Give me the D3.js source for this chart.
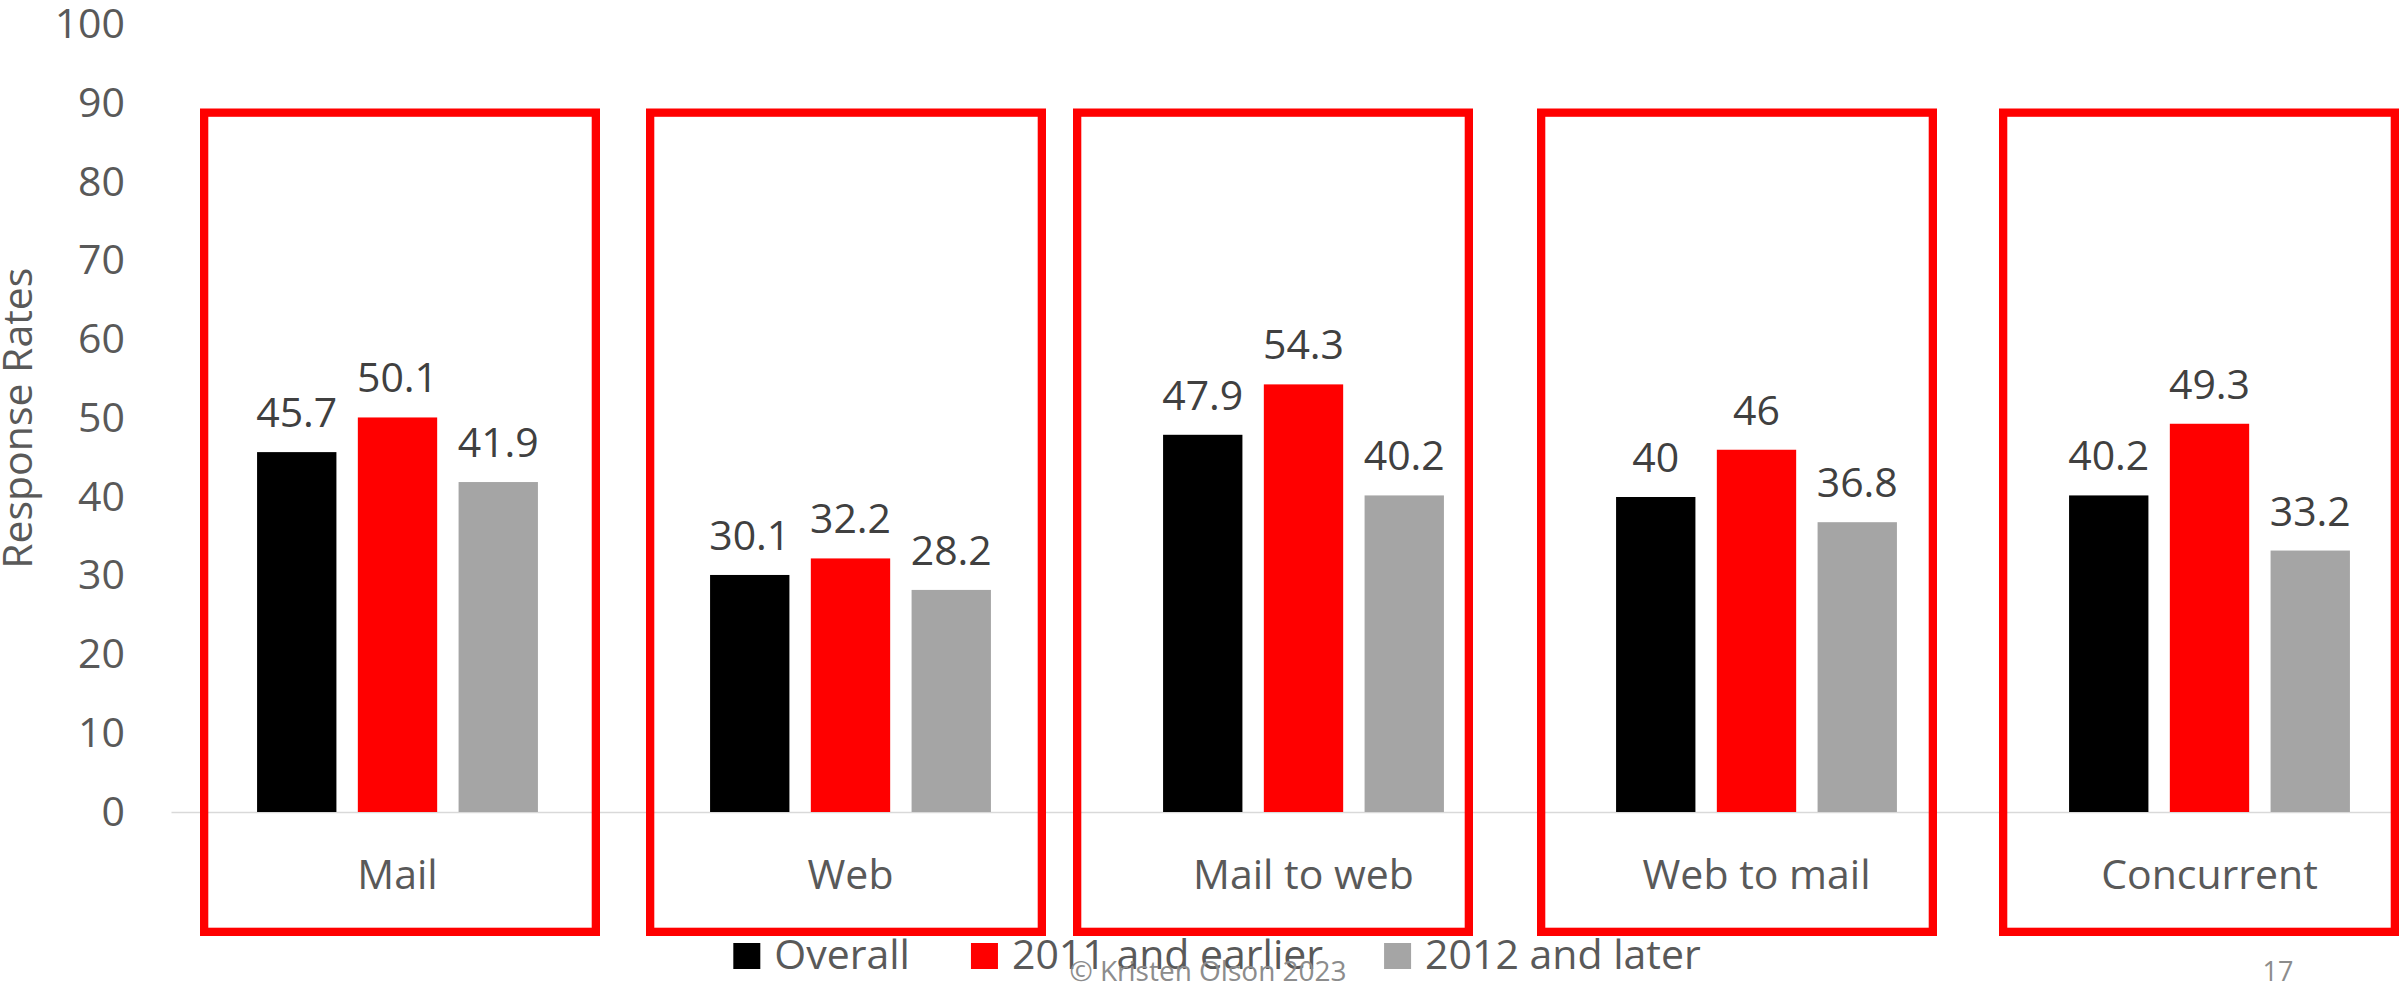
<!DOCTYPE html>
<html>
<head>
<meta charset="utf-8">
<script src="https://cdn.jsdelivr.net/npm/d3@7"></script>
<style>
  html, body { margin: 0; padding: 0; background: #fff; overflow: hidden; }
  svg { display: block; }
  text { font-family: "Open Sans", sans-serif; }
</style>
</head>
<body>
<svg id="chart" width="2399" height="988"></svg>
<script>
// Response rates by survey mode, split by period
const categories = ["Mail", "Web", "Mail to web", "Web to mail", "Concurrent"];
const seriesNames = ["Overall", "2011 and earlier", "2012 and later"];
const overall = [45.7, 30.1, 47.9, 40, 40.2];
const earlier2011 = [50.1, 32.2, 54.3, 46, 49.3];
const later2012 = [41.9, 28.2, 40.2, 36.8, 33.2];
const yTicks = [0, 10, 20, 30, 40, 50, 60, 70, 80, 90, 100];
const axisTitle = "Response Rates";
const footerText = "© Kristen Olson 2023";
const pageNumber = "17";

const seriesValues = [overall, earlier2011, later2012];
const seriesColors = ["#000000", "#ff0000", "#a5a5a5"];

// horizontal nudge of each red highlight frame relative to its category centre
const frameShift = [2.5, -4.5, -30.5, -19.5, -10.5];

const FONT = "'Open Sans', sans-serif";
const svg = d3.select("#chart");

const x = d3.scaleBand().domain(categories).range([171, 2436]).paddingInner(0).paddingOuter(0);
const bw = x.bandwidth();
const xs = d3.scaleBand().domain(seriesNames).range([bw * 0.19, bw * 0.81]).paddingInner(0.2125);
const y = d3.scaleLinear().domain([0, 100]).range([812, 24.5]);

const rows = categories.map((c, i) => ({
  category: c,
  values: seriesNames.map((s, j) => ({ series: s, value: seriesValues[j][i], color: seriesColors[j] }))
}));

// category axis (baseline + labels)
const xAxis = svg.append("g")
  .attr("transform", `translate(0,${y(0)})`)
  .call(d3.axisBottom(x).tickSize(0).tickSizeOuter(0));
xAxis.select(".domain").attr("stroke", "#d9d9d9").attr("stroke-width", 1.5);
xAxis.selectAll(".tick text")
  .attr("y", 77).attr("dy", 0)
  .attr("font-size", 41).attr("fill", "#595959")
  .style("font-family", FONT);

// value axis
const yAxis = svg.append("g")
  .attr("transform", "translate(171,0)")
  .call(d3.axisLeft(y).tickValues(yTicks).tickSize(0).tickPadding(46));
yAxis.select(".domain").remove();
yAxis.selectAll(".tick text")
  .attr("font-size", 41).attr("fill", "#595959")
  .style("font-family", FONT);

svg.append("text")
  .attr("transform", `translate(32,${(y(0) + y(100)) / 2}) rotate(-90)`)
  .attr("text-anchor", "middle")
  .attr("font-size", 41)
  .attr("fill", "#595959")
  .text(axisTitle);

// bars and value labels
const groups = svg.append("g").selectAll("g")
  .data(rows).join("g")
  .attr("transform", d => `translate(${x(d.category)},0)`);

groups.selectAll("rect")
  .data(d => d.values).join("rect")
  .attr("x", d => xs(d.series))
  .attr("width", xs.bandwidth())
  .attr("y", d => y(d.value))
  .attr("height", d => y(0) - y(d.value))
  .attr("fill", d => d.color);

groups.selectAll("text")
  .data(d => d.values).join("text")
  .attr("x", d => xs(d.series) + xs.bandwidth() / 2)
  .attr("y", d => y(d.value) - 25)
  .attr("text-anchor", "middle")
  .attr("font-size", 41)
  .attr("fill", "#404040")
  .text(d => String(d.value));

// red highlight frames around each mode
const frameW = 400, frameStroke = 8.3, frameTop = 108.5, frameBottom = 936;
svg.append("g").selectAll("rect")
  .data(categories).join("rect")
  .attr("x", (c, i) => x(c) + bw / 2 + frameShift[i] - frameW / 2 + frameStroke / 2)
  .attr("y", frameTop + frameStroke / 2)
  .attr("width", frameW - frameStroke)
  .attr("height", frameBottom - frameTop - frameStroke)
  .attr("fill", "none")
  .attr("stroke", "#ff0000")
  .attr("stroke-width", frameStroke);

// legend
const legend = svg.append("g");
const legendBaseline = 969;
let cursor = 0;
seriesNames.forEach((s, j) => {
  const item = legend.append("g").attr("transform", `translate(${cursor},0)`);
  item.append("rect")
    .attr("x", 0).attr("y", legendBaseline - 26)
    .attr("width", 27).attr("height", 26)
    .attr("fill", seriesColors[j]);
  const t = item.append("text")
    .attr("x", 41).attr("y", legendBaseline)
    .attr("font-size", 41).attr("fill", "#595959")
    .text(s);
  cursor += 41 + t.node().getComputedTextLength() + 61;
});
const legendWidth = cursor - 61;
legend.attr("transform", `translate(${1217 - legendWidth / 2},0)`);

// footer
svg.append("text")
  .attr("x", 1208).attr("y", 981)
  .attr("text-anchor", "middle")
  .attr("font-size", 28).attr("fill", "#8c8c8c")
  .text(footerText);

svg.append("text")
  .attr("x", 2278).attr("y", 981)
  .attr("text-anchor", "middle")
  .attr("font-size", 27).attr("fill", "#8c8c8c")
  .text(pageNumber);
</script>
</body>
</html>
